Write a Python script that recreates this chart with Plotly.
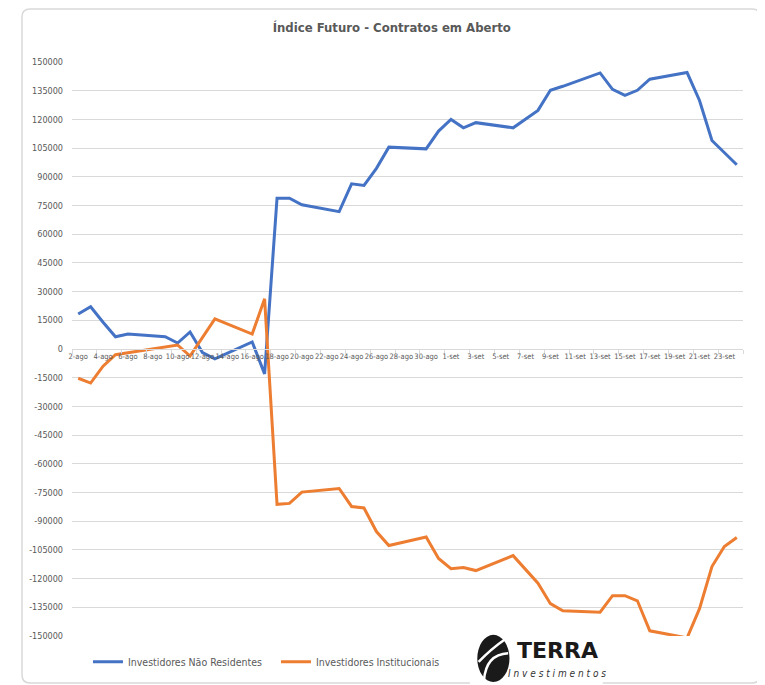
import plotly.graph_objects as go

# ---- data ----
dates = [
    "2021-08-02", "2021-08-03", "2021-08-04", "2021-08-05", "2021-08-06",
    "2021-08-09", "2021-08-10", "2021-08-11", "2021-08-12", "2021-08-13",
    "2021-08-16", "2021-08-17", "2021-08-18", "2021-08-19", "2021-08-20",
    "2021-08-23", "2021-08-24", "2021-08-25", "2021-08-26", "2021-08-27",
    "2021-08-30", "2021-08-31", "2021-09-01", "2021-09-02", "2021-09-03",
    "2021-09-06", "2021-09-08", "2021-09-09", "2021-09-10", "2021-09-13",
    "2021-09-14", "2021-09-15", "2021-09-16", "2021-09-17", "2021-09-20",
    "2021-09-21", "2021-09-22", "2021-09-23", "2021-09-24",
]
nao_residentes = [
    18300, 22100, 14000, 6400, 7800,
    6400, 3100, 8900, -1900, -5200,
    3700, -13000, 78800, 78800, 75400,
    71800, 86300, 85500, 94400, 105500,
    104600, 113900, 120000, 115600, 118300,
    115600, 124700, 135200, 137300, 144300,
    135700, 132600, 135200, 141000, 144500,
    129900, 109000, 102500, 96300,
]
institucionais = [
    -15300, -17800, -9000, -3000, -2000,
    1000, 2100, -3700, 6000, 15700,
    7800, 26200, -81200, -80700, -74800,
    -72900, -82300, -83100, -95400, -102700,
    -98300, -109500, -114800, -114200, -115800,
    -108000, -122400, -133100, -136800, -137600,
    -128900, -128900, -131600, -147300, -151000,
    -135700, -113700, -103200, -98500,
]
x_tick_dates = [
    "2021-08-02", "2021-08-04", "2021-08-06", "2021-08-08", "2021-08-10",
    "2021-08-12", "2021-08-14", "2021-08-16", "2021-08-18", "2021-08-20",
    "2021-08-22", "2021-08-24", "2021-08-26", "2021-08-28", "2021-08-30",
    "2021-09-01", "2021-09-03", "2021-09-05", "2021-09-07", "2021-09-09",
    "2021-09-11", "2021-09-13", "2021-09-15", "2021-09-17", "2021-09-19",
    "2021-09-21", "2021-09-23",
]
x_tick_labels = [
    "2-ago", "4-ago", "6-ago", "8-ago", "10-ago", "12-ago", "14-ago", "16-ago",
    "18-ago", "20-ago", "22-ago", "24-ago", "26-ago", "28-ago", "30-ago",
    "1-set", "3-set", "5-set", "7-set", "9-set", "11-set", "13-set", "15-set",
    "17-set", "19-set", "21-set", "23-set",
]
y_tick_vals = list(range(-150000, 150001, 15000))
y_tick_labels = [str(v) for v in y_tick_vals]

FONT = "DejaVu Sans Condensed, Liberation Sans Narrow, Lato, sans-serif"
GRAY = "#595959"
GRID = "#d9d9d9"

fig = go.Figure()
fig.add_trace(go.Scatter(x=dates, y=nao_residentes, mode="lines",
                         name="Investidores Não Residentes",
                         line=dict(color="#4472C4", width=3)))
fig.add_trace(go.Scatter(x=dates, y=institucionais, mode="lines",
                         name="Investidores Institucionais",
                         line=dict(color="#ED7D31", width=3)))

# rounded chart border (paper coords)
x0, x1, y0, y1 = -0.0745, 1.0253, -0.0819, 1.0923
rx, ry = 0.012, 0.014
border = (f"M{x0+rx},{y0} L{x1-rx},{y0} Q{x1},{y0} {x1},{y0+ry} "
          f"L{x1},{y1-ry} Q{x1},{y1} {x1-rx},{y1} L{x0+rx},{y1} "
          f"Q{x0},{y1} {x0},{y1-ry} L{x0},{y0+ry} Q{x0},{y0} {x0+rx},{y0} Z")

shapes = [
    dict(type="path", xref="paper", yref="paper", path=border,
         line=dict(color=GRID, width=1.5), fillcolor="rgba(0,0,0,0)", layer="below"),
    # white box behind logo
    dict(type="rect", xref="paper", yref="paper", x0=0.593, x1=0.791, y0=-0.085, y1=0.016,
         fillcolor="white", line=dict(width=0), layer="above"),
    # logo icon
    dict(type="circle", xref="paper", yref="paper", x0=0.604, x1=0.652, y0=-0.080, y1=0.002,
         fillcolor="#1a1a1a", line=dict(width=0), layer="above"),
    dict(type="path", xref="paper", yref="paper",
         path="M0.606,-0.045 Q0.625,-0.022 0.645,-0.006",
         line=dict(color="white", width=2.5), layer="above"),
    dict(type="path", xref="paper", yref="paper",
         path="M0.614,-0.077 Q0.617,-0.032 0.650,-0.030",
         line=dict(color="white", width=2.5), layer="above"),
]

annotations = [
    dict(text="TERRA", xref="paper", yref="paper", x=0.723, y=-0.0245,
         showarrow=False, font=dict(family="DejaVu Sans, sans-serif", size=22,
                                     color="#1a1a1a", weight="bold"),
         xanchor="center", yanchor="middle"),
    dict(text="<i>I n v e s t i m e n t o s</i>", xref="paper", yref="paper", x=0.723, y=-0.0645,
         showarrow=False, font=dict(family=FONT, size=10, color="#333333"),
         xanchor="center", yanchor="middle"),
]

fig.update_layout(
    width=757, height=677,
    margin=dict(l=64, r=22, t=54, b=49, autoexpand=False),
    paper_bgcolor="white", plot_bgcolor="white",
    title=dict(text="Índice Futuro - Contratos em Aberto", x=0.507, xanchor="center",
               y=0.972, yanchor="middle",
               font=dict(family=FONT, size=13, color=GRAY, weight="bold")),
    showlegend=True,
    legend=dict(orientation="h", x=0.0238, y=-0.045, xanchor="left", yanchor="middle",
                font=dict(family=FONT, size=10.5, color=GRAY),
                entrywidth=143, itemwidth=30, bgcolor="rgba(0,0,0,0)"),
    shapes=shapes,
    annotations=annotations,
    xaxis=dict(type="date", range=["2021-08-01 12:00", "2021-09-24 12:00"],
               anchor="free", position=0.5,
               tickvals=x_tick_dates, ticktext=x_tick_labels,
               tickangle=0, showgrid=False, zeroline=False,
               showline=True, linecolor=GRID, linewidth=1,
               ticks="", tickfont=dict(family=FONT, size=7.5, color=GRAY),
               minor=dict(ticks="outside", ticklen=4, tickcolor=GRID,
                          tick0="2021-08-01 12:00", dtick=2 * 86400000, showgrid=False)),
    yaxis=dict(range=[-150000, 150000], tickvals=y_tick_vals, ticktext=y_tick_labels,
               showgrid=True, gridcolor=GRID, gridwidth=1, zeroline=False,
               showline=False, ticks="", ticklabelstandoff=8,
               tickfont=dict(family=FONT, size=9, color=GRAY)),
    font=dict(family=FONT, color=GRAY),
)

fig.write_html("out.html")
